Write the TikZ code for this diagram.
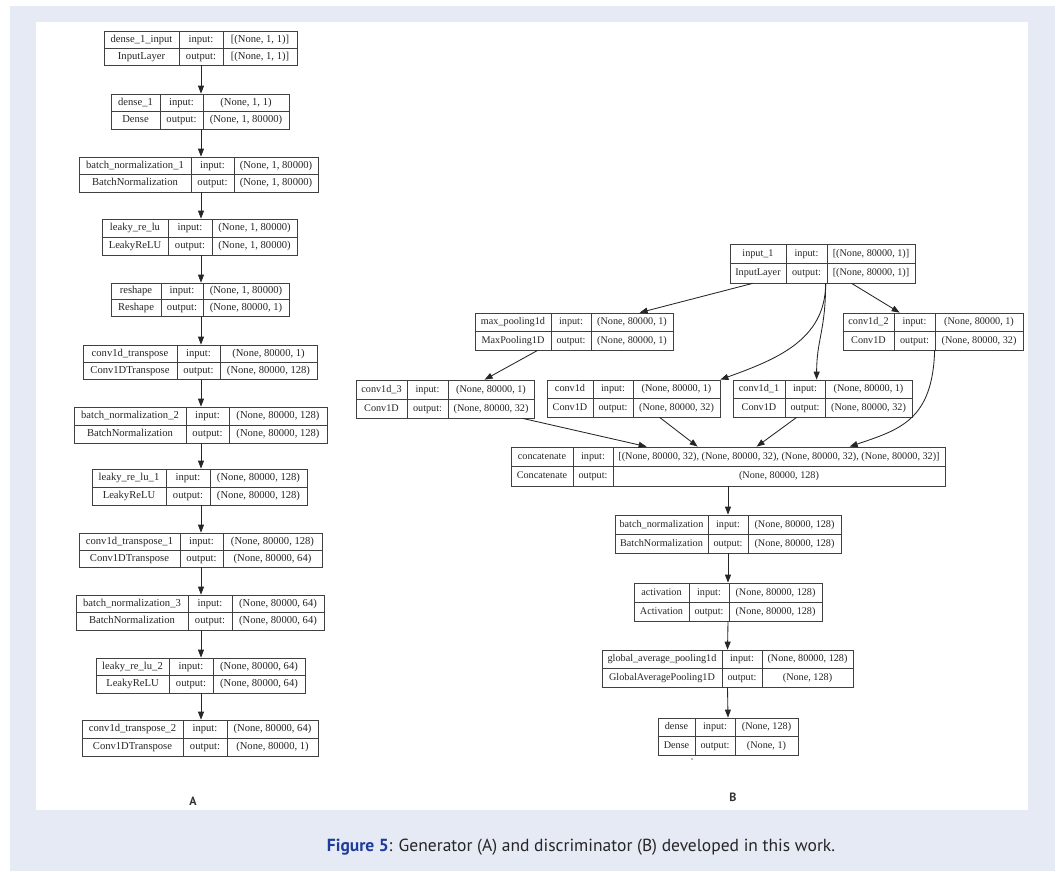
\documentclass[tikz,border=0pt]{standalone}
\usepackage{fontspec}
\setmainfont{Liberation Serif}
\newfontfamily\capfont{PT Sans}
\usetikzlibrary{arrows.meta,fit,calc}
\definecolor{panelblue}{HTML}{E6EAF5}
\definecolor{figblue}{HTML}{1F3C9A}
\def\kfs{10.6}
\tikzset{
  layerbox/.style={draw=black!75, line width=0.75pt, inner sep=0pt},
  cellline/.style={draw=black!75, line width=0.75pt},
  celltext/.style={inner sep=0pt, text=black!85, text height=0.7em, text depth=0.2em,
    font=\fontsize{\kfs}{12}\selectfont},
  flow/.style={draw=black!85, line width=0.85pt, -{Triangle[length=8pt,width=6pt]}},
  sublabel/.style={inner sep=0pt, text=black!80, font=\capfont\bfseries\fontsize{12}{14}\selectfont},
}
\def\kparse#1/#2/#3/#4/#5/#6\relax{\def\kx{#1}\def\ky{#2}\def\kxx{#3}\def\kyy{#4}\def\kca{#5}\def\kcb{#6}}
\newcommand\klayer[6]{%
  \kparse#2\relax
  \pgfmathsetmacro\kym{(\ky+\kyy)/2}%
  \pgfmathsetmacro\kyt{(\ky+\kym)/2}%
  \pgfmathsetmacro\kyb{(\kym+\kyy)/2}%
  \pgfmathsetmacro\kxa{(\kx+\kca)/2}%
  \pgfmathsetmacro\kxb{(\kca+\kcb)/2}%
  \pgfmathsetmacro\kxc{(\kcb+\kxx)/2}%
  \node[layerbox, fit={(\kx,\ky)(\kxx,\kyy)}] (#1) {};
  \draw[cellline] (\kx,\kym) -- (\kxx,\kym) (\kca,\ky) -- (\kca,\kyy) (\kcb,\ky) -- (\kcb,\kyy);
  \node[celltext] (#1-n) at (\kxa,\kyt) {#3};
  \node[celltext] (#1-c) at (\kxa,\kyb) {#4};
  \node[celltext] (#1-il) at (\kxb,\kyt) {input:};
  \node[celltext] (#1-ol) at (\kxb,\kyb) {output:};
  \node[celltext] (#1-i) at (\kxc,\kyt) {#5};
  \node[celltext] (#1-o) at (\kxc,\kyb) {#6};
}
\begin{document}
\begin{tikzpicture}[x=1pt,y=-1pt]
\fill[white] (0,0) rectangle (1060,871);
\fill[panelblue] (10,6) rectangle (1055,871);
\fill[white] (36,22) rectangle (1028,810);
\useasboundingbox (0,0) rectangle (1060,871);

% ---------------- Generator (A) ----------------
\def\kfs{10.6}
\klayer{L1}{104/31/297/65/179/223}{dense\_1\_input}{InputLayer}{[(None, 1, 1)]}{[(None, 1, 1)]}
\klayer{L2}{111/94/289/129/160/203}{dense\_1}{Dense}{(None, 1, 1)}{(None, 1, 80000)}
\klayer{L3}{79/157/318/192/191/234}{batch\_normalization\_1}{BatchNormalization}{(None, 1, 80000)}{(None, 1, 80000)}
\klayer{L4}{102/219/297/255/168/212}{leaky\_re\_lu}{LeakyReLU}{(None, 1, 80000)}{(None, 1, 80000)}
\klayer{L5}{111/283/289/316/161/203}{reshape}{Reshape}{(None, 1, 80000)}{(None, 80000, 1)}
\klayer{L6}{83/345/317/379/177/220}{conv1d\_transpose}{Conv1DTranspose}{(None, 80000, 1)}{(None, 80000, 128)}
\klayer{L7}{74/407/327/443/186/229}{batch\_normalization\_2}{BatchNormalization}{(None, 80000, 128)}{(None, 80000, 128)}
\klayer{L8}{92/469/307/505/166/210}{leaky\_re\_lu\_1}{LeakyReLU}{(None, 80000, 128)}{(None, 80000, 128)}
\klayer{L9}{79/533/322/567/180/223}{conv1d\_transpose\_1}{Conv1DTranspose}{(None, 80000, 128)}{(None, 80000, 64)}
\klayer{L10}{76/595/324/630/188/232}{batch\_normalization\_3}{BatchNormalization}{(None, 80000, 64)}{(None, 80000, 64)}
\klayer{L11}{96/658/305/693/169/213}{leaky\_re\_lu\_2}{LeakyReLU}{(None, 80000, 64)}{(None, 80000, 64)}
\klayer{L12}{82/720/318/756/183/227}{conv1d\_transpose\_2}{Conv1DTranspose}{(None, 80000, 64)}{(None, 80000, 1)}
\coordinate (axisA) at (201,0);
\foreach \a/\b in {L1/L2,L2/L3,L3/L4,L4/L5,L5/L6,L6/L7,L7/L8,L8/L9,L9/L10,L10/L11,L11/L12}
  \draw[flow] (\a.south -| axisA) -- (\b.north -| axisA);
\node[sublabel] (labA) at (193,801) {A};

% ---------------- Discriminator (B) ----------------
\def\kfs{10.2}
\klayer{in1}{730/244/915/283/786/827}{input\_1}{InputLayer}{[(None, 80000, 1)]}{[(None, 80000, 1)]}
\klayer{mp}{475/313/673/350/551/591}{max\_pooling1d}{MaxPooling1D}{(None, 80000, 1)}{(None, 80000, 1)}
\klayer{c2}{843/313/1023/350/894/935}{conv1d\_2}{Conv1D}{(None, 80000, 1)}{(None, 80000, 32)}
\klayer{c3}{356/380/534/418/407/448}{conv1d\_3}{Conv1D}{(None, 80000, 1)}{(None, 80000, 32)}
\klayer{c0}{547/380/720/417/593/633}{conv1d}{Conv1D}{(None, 80000, 1)}{(None, 80000, 32)}
\klayer{c1}{733/380/912/417/785/825}{conv1d\_1}{Conv1D}{(None, 80000, 1)}{(None, 80000, 32)}
\klayer{cat}{511/447/945/486/573/613}{concatenate}{Concatenate}{[(None, 80000, 32), (None, 80000, 32), (None, 80000, 32), (None, 80000, 32)]}{(None, 80000, 128)}
\klayer{bn}{615/515/841/553/708/748}{batch\_normalization}{BatchNormalization}{(None, 80000, 128)}{(None, 80000, 128)}
\klayer{act}{634/583/822/621/689/729}{activation}{Activation}{(None, 80000, 128)}{(None, 80000, 128)}
\klayer{gap}{602/650/853/687/722/762}{global\_average\_pooling1d}{GlobalAveragePooling1D}{(None, 80000, 128)}{(None, 128)}
\klayer{dn}{658/718/798/755/695/735}{dense}{Dense}{(None, 128)}{(None, 1)}

\draw[flow] ($(in1.south west)+(23,0)$) -- ($(mp.north west)+(165,0)$);
\draw[flow] ($(in1.south west)+(122,0)$) -- ($(c2.north west)+(57,0)$);
\draw[flow] ($(in1.south west)+(96,0)$) .. controls +(0,57) and +(55,-20) .. (c0.north east);
\draw[flow] ($(in1.south west)+(96,0)$) .. controls +(0,47) and +(0,-40) .. ($(c1.north west)+(84,0)$);
\draw[flow] ($(mp.south west)+(63,0)$) -- ($(c3.north west)+(129,0)$);
\draw[flow] ($(c3.south west)+(167,0)$) -- ($(cat.north west)+(136,0)$);
\draw[flow] ($(c0.south west)+(113,0)$) -- ($(cat.north west)+(187,0)$);
\draw[flow] ($(c1.south west)+(64,0)$) -- ($(cat.north west)+(246,0)$);
\draw[flow] ($(c2.south west)+(92,0)$) .. controls +(-2,70) and +(50,-17) .. ($(cat.north west)+(339,0)$);
\draw[flow] (cat.south) -- (bn.north);
\draw[flow] (bn.south) -- (act.north);
\draw[flow] (act.south) -- (gap.north);
\draw[flow] (gap.south) -- (dn.north);
\fill[black!55] (692,759) circle (0.8pt);
\node[sublabel] (labB) at (733,797) {B};

% ---------------- Caption ----------------
\node[inner sep=0pt, anchor=base, text=black!85, font=\capfont\fontsize{17.5}{20}\selectfont] (cap) at (581,851)
  {\textcolor{figblue}{\bfseries Figure 5}: Generator (A) and discriminator (B) developed in this work.};
\end{tikzpicture}
\end{document}
